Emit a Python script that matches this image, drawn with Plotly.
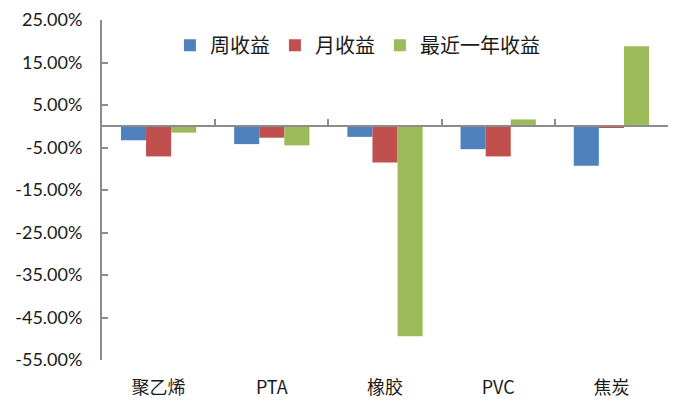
import plotly.graph_objects as go

categories = ["聚乙烯", "PTA", "橡胶", "PVC", "焦炭"]
weekly = [-3.3, -4.2, -2.5, -5.4, -9.3]
monthly = [-7.1, -2.7, -8.5, -7.1, -0.2]
yearly = [-1.5, -4.5, -49.4, 1.6, 18.8]
series_names = ["周收益", "月收益", "最近一年收益"]
colors = ["#4F81BD", "#C0504D", "#9BBB59"]
y_ticks = [25, 15, 5, -5, -15, -25, -35, -45, -55]
y_ticktext = ["25.00%", "15.00%", "5.00%", "-5.00%", "-15.00%", "-25.00%", "-35.00%", "-45.00%", "-55.00%"]

CJK = "Noto Sans CJK SC"
LAT = "Lato, Noto Sans CJK SC"

fig = go.Figure()
for name, vals, c in zip(series_names, [weekly, monthly, yearly], colors):
    fig.add_trace(go.Bar(x=categories, y=vals, name=name, marker=dict(color=c, line=dict(width=0))))

# invisible trace for the overlay axis at zero
fig.add_trace(go.Scatter(x=categories, y=[0] * len(categories), xaxis="x2", mode="lines",
                         line=dict(width=0), showlegend=False, hoverinfo="skip"))

ymin, ymax = -55, 25
fig.update_layout(
    width=684, height=403,
    margin=dict(l=94, r=24, t=12, b=51, autoexpand=False),
    paper_bgcolor="white", plot_bgcolor="white",
    barmode="group", bargap=0.335, bargroupgap=0,
    font=dict(family=LAT, color="#000000"),
    showlegend=True,
    legend=dict(orientation="h", x=0.12, y=0.926, xanchor="left", yanchor="middle",
                font=dict(family=CJK, size=20, color="#1a1a1a"), bgcolor="rgba(0,0,0,0)",
                itemwidth=30, traceorder="normal"),
    xaxis=dict(type="category", range=[-0.5, 4.5], showline=False, ticks="", showgrid=False,
               zeroline=False, ticklabelstandoff=15,
               tickfont=dict(family=CJK, size=18, color="#1a1a1a")),
    xaxis2=dict(type="category", overlaying="x", anchor="free", position=(0 - ymin) / (ymax - ymin),
                range=[-0.5, 4.5], showline=True, linecolor="#8C8C8C", linewidth=2,
                ticks="inside", tickson="boundaries", ticklen=6, tickcolor="#8C8C8C", tickwidth=2,
                showticklabels=False, showgrid=False, zeroline=False, side="bottom"),
    yaxis=dict(range=[ymin, ymax], tickvals=y_ticks, ticktext=y_ticktext, showgrid=False,
               zeroline=False, showline=True, linecolor="#8C8C8C", linewidth=2,
               ticks="inside", ticklen=6, tickcolor="#8C8C8C", tickwidth=2,
               ticklabelstandoff=14, ticklabeloverflow="allow",
               tickfont=dict(family=LAT, size=18, color="#1a1a1a")),
)

fig.write_html("out.html")
